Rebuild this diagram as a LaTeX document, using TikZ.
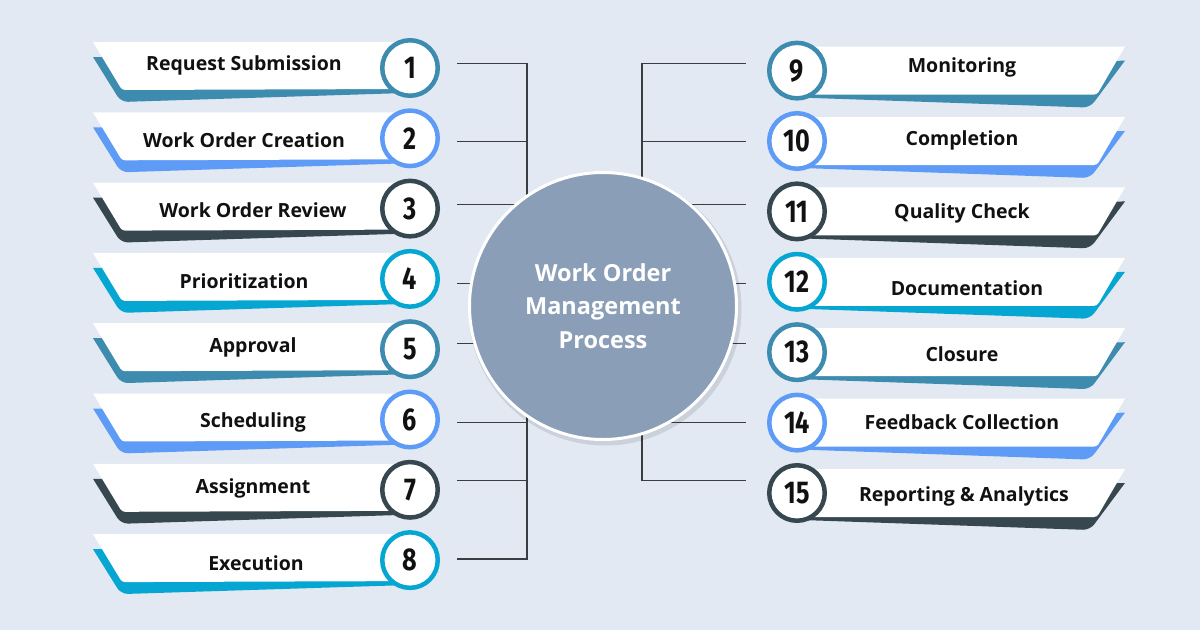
\documentclass[tikz,border=0pt]{standalone}
\usepackage{fontspec}
\setmainfont{Open Sans}
\newfontfamily\numfont[FakeStretch=0.8]{Fira Sans}
\definecolor{bg}{HTML}{E2E9F3}
\definecolor{cteal}{HTML}{3D8BAF}
\definecolor{cblue}{HTML}{5E9BF7}
\definecolor{cdark}{HTML}{37474F}
\definecolor{ccyan}{HTML}{06A6D2}
\definecolor{hub}{HTML}{8A9EB7}
\definecolor{txt}{HTML}{111111}
\definecolor{wire}{HTML}{3A3D42}
\tikzset{
  numcirc/.style={circle, line width=4.5pt, fill=white, minimum size=55.5pt, inner sep=0pt,
    font=\numfont\bfseries\fontsize{31.5}{31.5}\selectfont, text=txt},
  stagelabel/.style={font=\bfseries\fontsize{19.5}{21}\selectfont, text=txt, inner sep=0pt, yshift=-2.5pt},
  wireline/.style={draw=wire, line width=1.3pt},
  hubcirc/.style={circle, fill=hub, draw=white, line width=3pt, minimum size=267pt, inner sep=0pt,
    align=center, text=white, font=\bfseries\fontsize{23.5}{33.5}\selectfont}
}
\begin{document}
\begin{tikzpicture}[x=1pt,y=-1pt]
\useasboundingbox (0,0) rectangle (1200,630);
\fill[bg] (0,0) rectangle (1200,630);

% connector coordinates
\coordinate (lb1) at (527,63.3);  \coordinate (lb8) at (527,559);
\coordinate (lt) at (527,250);    \coordinate (lbot) at (527,380);
\coordinate (rb9) at (642,63.3);  \coordinate (rb15) at (642,480.3);
\coordinate (rt) at (642,250);    \coordinate (rbot) at (642,380);
\foreach \k/\y in {1/63.3,2/141.7,3/204.3,4/283.3,5/343.3,6/422.3,7/480.3,8/559}{
  \coordinate (la\k) at (457,\y);
  \coordinate (lz\k) at (560,\y);
}
\foreach \k/\y in {9/63.3,10/141.7,11/204.3,12/283.3,13/343.3,14/422.3,15/480.3}{
  \coordinate (ra\k) at (745.7,\y);
  \coordinate (rz\k) at (620,\y);
}
% left wires
\draw[wireline] (la1) -- (la1 -| lb1) -- (lt);
\draw[wireline] (la2) -- (la2 -| lb1);
\draw[wireline] (la3) -- (lz3);
\draw[wireline] (la4) -- (lz4);
\draw[wireline] (la5) -- (lz5);
\draw[wireline] (la8) -- (la8 -| lb8) -- (lbot);
\draw[wireline] (la6) -- (la6 -| lb8);
\draw[wireline] (la7) -- (la7 -| lb8);
% right wires
\draw[wireline] (ra9) -- (ra9 -| rb9) -- (rt);
\draw[wireline] (ra10) -- (ra10 -| rb9);
\draw[wireline] (ra11) -- (rz11);
\draw[wireline] (ra12) -- (rz12);
\draw[wireline] (ra13) -- (rz13);
\draw[wireline] (ra15) -- (ra15 -| rb15) -- (rbot);
\draw[wireline] (ra14) -- (ra14 -| rb15);

% hub
\fill[black, opacity=0.10] (605,309) circle (136.5pt);
\node[hubcirc] (hub) at (603,306) {Work Order\\Management\\Process};

% left banners
\foreach \n/\cy/\lab/\tx/\ty/\col in {
  1/68/Request Submission/244/63/cteal,
  2/138.3/Work Order Creation/244/138/cblue,
  3/208.6/Work Order Review/253/208/cdark,
  4/278.9/Prioritization/244/279/ccyan,
  5/349.2/Approval/253/345/cteal,
  6/419.5/Scheduling/253/420/cblue,
  7/489.8/Assignment/253/486/cdark,
  8/560.1/Execution/256/561/ccyan}{
  \fill[\col] (93,\cy-11) [rounded corners=7pt] -- (121,\cy+34) -- (405,\cy+25) [sharp corners] -- (405,\cy-11) -- cycle;
  \fill[white] (93,\cy-26) -- (405,\cy-26) -- (405,\cy+21) [rounded corners=3pt] -- (122,\cy+22) [sharp corners] -- cycle;
  \node[numcirc, draw=\col] (n\n) at (410,\cy) {\n};
  \node[stagelabel] (lab\n) at (\tx,\ty) {\lab};
}

% right banners
\foreach \n/\cy/\lab/\tx/\ty/\col in {
  9/70.6/Monitoring/962/65/cteal,
  10/141/Completion/962/138/cblue,
  11/211.4/Quality Check/962/211/cdark,
  12/281.8/Documentation/967/286/ccyan,
  13/352.2/Closure/962/352/cteal,
  14/422.6/Feedback Collection/962/420/cblue,
  15/493/Reporting \& Analytics/964/494/cdark}{
  \fill[\col] (802,\cy) -- (1125,\cy-10) [rounded corners=7pt] -- (1090,\cy+37) -- (802,\cy+27) [sharp corners] -- cycle;
  \fill[white] (802,\cy-24) -- (1125,\cy-24) [rounded corners=3pt] -- (1097,\cy+24) [sharp corners] -- (802,\cy+24) -- cycle;
  \node[numcirc, draw=\col] (n\n) at (797,\cy) {\n};
  \node[stagelabel] (lab\n) at (\tx,\ty) {\lab};
}
\end{tikzpicture}
\end{document}
